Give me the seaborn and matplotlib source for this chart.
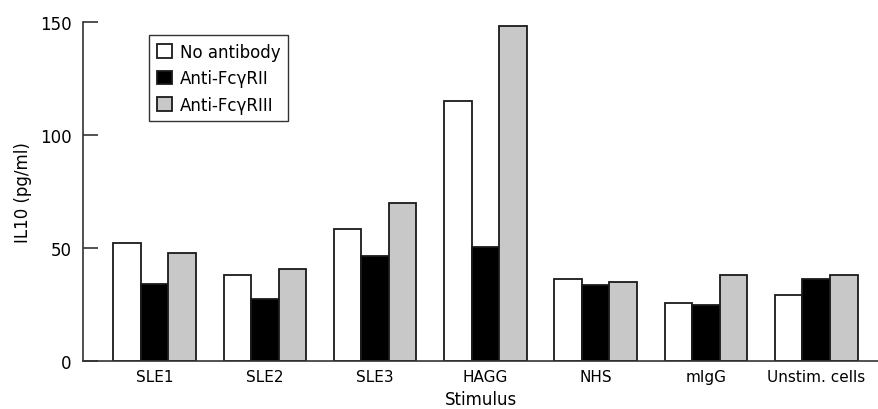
import matplotlib
matplotlib.use("Agg")
import matplotlib.pyplot as plt
import seaborn as sns
import pandas as pd

# values (pg/ml)
stimuli = ['SLE1', 'SLE2', 'SLE3', 'HAGG', 'NHS', 'mIgG', 'Unstim. cells']
no_antibody = [52, 38, 58.5, 115, 36.3, 25.7, 29.2]
anti_fc_ii = [34, 27.5, 46.5, 50.3, 33.6, 24.8, 36.3]
anti_fc_iii = [47.8, 40.7, 69.8, 148, 35, 38, 38]
series = ['No antibody', 'Anti-FcγRII', 'Anti-FcγRIII']

df = pd.DataFrame({
    'Stimulus': stimuli * 3,
    'IL10': no_antibody + anti_fc_ii + anti_fc_iii,
    'Treatment': [s for s in series for _ in stimuli],
})

sns.set_style('white')
plt.rcParams['font.family'] = ['DejaVu Sans']
plt.rcParams['text.color'] = 'black'
plt.rcParams['axes.labelcolor'] = 'black'
plt.rcParams['xtick.color'] = 'black'
plt.rcParams['ytick.color'] = 'black'

fig = plt.figure(figsize=(8.79, 4.10), dpi=100)
ax = fig.add_axes([0.0944, 0.117, 0.9056, 0.827])

sns.barplot(data=df, x='Stimulus', y='IL10', hue='Treatment', order=stimuli,
            hue_order=series, palette=['white', 'black', '#c8c8c8'],
            width=0.75, edgecolor='#1a1a1a', linewidth=1.3, ax=ax,
            errorbar=None)

ax.set_xlim(-0.65, 6.57)
ax.set_ylim(0, 150)
ax.set_yticks([0, 50, 100, 150])
ax.tick_params(axis='y', left=True, direction='in', length=11, width=1.2,
               color='#333333', labelsize=12, pad=8)
ax.tick_params(axis='x', bottom=False, length=0, labelsize=11, pad=6)
ax.set_ylabel('IL10 (pg/ml)', fontsize=12, labelpad=6)
ax.set_xlabel('Stimulus', fontsize=12, labelpad=4)

sns.despine(ax=ax, top=True, right=True)
for side in ['left', 'bottom']:
    ax.spines[side].set_color('#333333')
    ax.spines[side].set_linewidth(1.2)
ax.spines['left'].set_bounds(0, 150)

leg = ax.legend(loc='upper left', bbox_to_anchor=(0.073, 0.985), fontsize=12,
                frameon=True, fancybox=False, edgecolor='black',
                handlelength=0.9, handleheight=0.9, handletextpad=0.5,
                borderpad=0.45, labelspacing=0.5, title=None)
leg.get_frame().set_linewidth(1.0)

fig.savefig('out.png', dpi=100)
